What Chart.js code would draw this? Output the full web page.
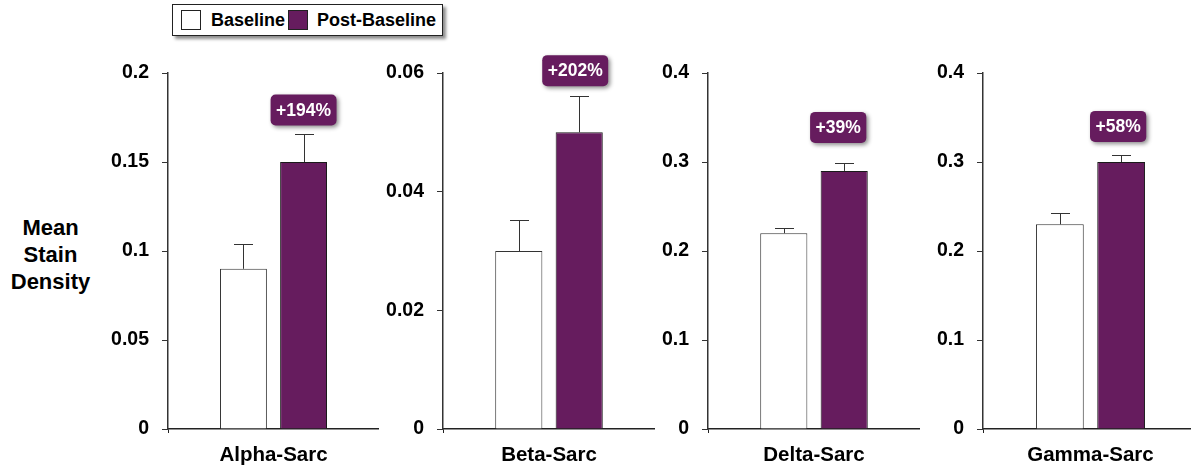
<!DOCTYPE html>
<html>
<head>
<meta charset="utf-8">
<script src="https://cdn.jsdelivr.net/npm/chart.js@4.4.1/dist/chart.umd.min.js"></script>
<style>
  html, body { margin: 0; padding: 0; background: #fff; }
  body { position: relative; width: 1191px; height: 468px; overflow: hidden;
         font-family: "Liberation Sans", Arial, sans-serif; }
  canvas { position: absolute; top: 0; }
  #legend { position: absolute; left: 172px; top: 4px; width: 269px; height: 30px;
            border: 1px solid #222; background: #fff; box-shadow: 3px 3px 3px rgba(0,0,0,0.45);
            font-weight: bold; font-size: 18px; color: #000; }
  #legend .sw { position: absolute; top: 5px; width: 18px; height: 18px; border: 1px solid #222; box-sizing: content-box; }
  #legend .tx { position: absolute; top: 4px; line-height: 22px; white-space: nowrap; }
  #ytitle { position: absolute; left: 0; top: 214px; width: 101px; text-align: center;
            font-weight: bold; font-size: 22px; line-height: 27px; color: #000; }
</style>
</head>
<body>
<div id="legend"></div>
<div id="ytitle"></div>
<script>
// Chart data
const categories = ['Alpha-Sarc', 'Beta-Sarc', 'Delta-Sarc', 'Gamma-Sarc'];
const seriesNames = ['Baseline', 'Post-Baseline'];
const baselineValues = [0.09, 0.03, 0.22, 0.23];
const baselineErrors = [0.014, 0.0052, 0.006, 0.013];
const postValues = [0.15, 0.05, 0.29, 0.30];
const postErrors = [0.016, 0.0061, 0.009, 0.008];
const changeLabels = ['+194%', '+202%', '+39%', '+58%'];
const axisMax = [0.2, 0.06, 0.4, 0.4];
const axisStep = [0.05, 0.02, 0.1, 0.1];
const yTitleLines = ['Mean', 'Stain', 'Density'];

// Styling and panel geometry
const FONT = '"Liberation Sans", Arial, sans-serif';
const PURPLE = '#661c5e';
const seriesFill = ['#ffffff', PURPLE];
const Y_AXIS_W = 70;
const panels = [
  { axisX: 168, right: 379, badgeGap: 8,  badgeDx: 0 },
  { axisX: 443, right: 655, badgeGap: 10, badgeDx: -4 },
  { axisX: 708, right: 920, badgeGap: 20, badgeDx: -6 },
  { axisX: 983, right: 1198, badgeGap: 13, badgeDx: -3 }
];

// Legend and y title (HTML text)
const legend = document.getElementById('legend');
[[8, 38], [115, 144]].forEach(([swX, txX], k) => {
  const sw = document.createElement('div');
  sw.className = 'sw'; sw.style.left = swX + 'px'; sw.style.background = seriesFill[k];
  const tx = document.createElement('div');
  tx.className = 'tx'; tx.style.left = txX + 'px'; tx.textContent = seriesNames[k];
  legend.appendChild(sw); legend.appendChild(tx);
});
document.getElementById('ytitle').innerHTML = yTitleLines.join('<br>');

// Upper error bars drawn from each dataset's "errors" array
const errorBars = {
  id: 'errorBars',
  afterDatasetsDraw(chart) {
    const ctx = chart.ctx, y = chart.scales.y;
    ctx.save();
    ctx.strokeStyle = '#333';
    ctx.lineWidth = 1;
    chart.data.datasets.forEach((ds, di) => {
      chart.getDatasetMeta(di).data.forEach((bar, j) => {
        const top = Math.round(y.getPixelForValue(ds.data[j] + ds.errors[j])) + 0.5;
        const x = Math.round(bar.x) + 0.5;
        ctx.beginPath();
        ctx.moveTo(x, bar.y);
        ctx.lineTo(x, top);
        ctx.moveTo(x - 9.5, top);
        ctx.lineTo(x + 9.5, top);
        ctx.stroke();
      });
    });
    ctx.restore();
  }
};

// Percent-change badge above the post-baseline bar
const changeBadge = {
  id: 'changeBadge',
  afterDatasetsDraw(chart, args, opts) {
    const ctx = chart.ctx, y = chart.scales.y;
    chart.data.datasets.forEach((ds, di) => {
      if (!ds.changeLabel) return;
      const bar = chart.getDatasetMeta(di).data[0];
      const errTop = y.getPixelForValue(ds.data[0] + ds.errors[0]);
      ctx.save();
      ctx.font = 'bold 17.5px ' + FONT;
      const w = ctx.measureText(ds.changeLabel).width + 11;
      const h = 31;
      const cx = bar.x + opts.dx;
      const bottom = errTop - opts.gap;
      ctx.shadowColor = 'rgba(0,0,0,0.45)';
      ctx.shadowBlur = 4;
      ctx.shadowOffsetX = 2;
      ctx.shadowOffsetY = 2;
      ctx.fillStyle = PURPLE;
      ctx.beginPath();
      ctx.roundRect(cx - w / 2, bottom - h, w, h, 5);
      ctx.fill();
      ctx.shadowColor = 'transparent';
      ctx.fillStyle = '#fff';
      ctx.textAlign = 'center';
      ctx.textBaseline = 'middle';
      ctx.fillText(ds.changeLabel, cx, bottom - h / 2 + 1);
      ctx.restore();
    });
  }
};

panels.forEach((p, i) => {
  const cv = document.createElement('canvas');
  const left = p.axisX - Y_AXIS_W;
  cv.width = p.right - left;
  cv.height = 468;
  cv.style.left = left + 'px';
  document.body.appendChild(cv);

  new Chart(cv, {
    type: 'bar',
    data: {
      labels: [categories[i]],
      datasets: [
        { label: seriesNames[0], data: [baselineValues[i]], errors: [baselineErrors[i]],
          backgroundColor: seriesFill[0], borderColor: '#333', borderWidth: 1 },
        { label: seriesNames[1], data: [postValues[i]], errors: [postErrors[i]],
          changeLabel: changeLabels[i],
          backgroundColor: seriesFill[1], borderColor: '#1a1a1a', borderWidth: 1 }
      ]
    },
    options: {
      responsive: false,
      animation: false,
      devicePixelRatio: 1,
      layout: { padding: { top: 73, left: 0, right: 0, bottom: 0 } },
      datasets: { bar: { barPercentage: 0.78, categoryPercentage: 0.57 } },
      plugins: {
        legend: { display: false },
        tooltip: { enabled: false },
        changeBadge: { gap: p.badgeGap, dx: p.badgeDx }
      },
      scales: {
        x: {
          grid: { display: true, drawOnChartArea: false, drawTicks: true, tickLength: 4,
                  color: '#222', offset: true },
          border: { display: true, color: '#222', width: 1.5 },
          ticks: { color: '#000', padding: 10, font: { family: FONT, size: 20.5, weight: 'bold' } },
          afterFit: s => { s.height = 39; }
        },
        y: {
          min: 0,
          max: axisMax[i],
          grid: { display: true, drawOnChartArea: false, drawTicks: true, tickLength: 6, color: '#333' },
          border: { display: true, color: '#333', width: 1.5 },
          ticks: {
            stepSize: axisStep[i],
            color: '#000',
            padding: 13,
            font: { family: FONT, size: 19.5, weight: 'bold' },
            callback: v => String(parseFloat(Number(v).toFixed(4)))
          },
          afterFit: s => { s.width = Y_AXIS_W; }
        }
      }
    },
    plugins: [errorBars, changeBadge]
  });
});
</script>
</body>
</html>
